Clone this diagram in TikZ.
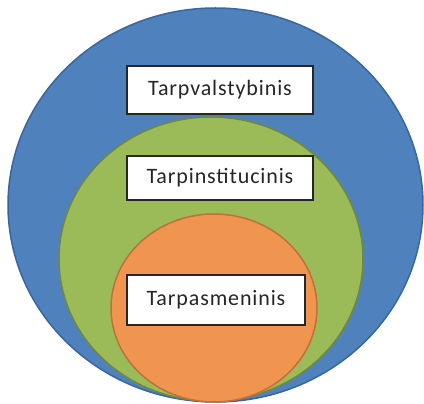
\documentclass[tikz,border=0pt]{standalone}
\usepackage{fontspec}
\setmainfont{Carlito}
\definecolor{cblue}{HTML}{4F81BD}
\definecolor{cblueE}{HTML}{3A66A0}
\definecolor{cgreen}{HTML}{9BBB59}
\definecolor{cgreenE}{HTML}{71893F}
\definecolor{corange}{HTML}{F0954F}
\definecolor{corangeE}{HTML}{C0703A}
\begin{document}
\begin{tikzpicture}[x=1pt,y=1pt,
  labelbox/.style={draw=black!85,fill=white,line width=1.2pt,inner sep=0pt,
    font=\fontsize{22}{24}\selectfont\addfontfeatures{LetterSpace=4},text=black!85}]
\useasboundingbox (0,0) rectangle (424,404);
\begin{scope}
\clip (0,0) rectangle (424,404);
\draw[fill=cblue,draw=cblueE,line width=1.5pt] (215.5,199) ellipse [x radius=207.5,y radius=197];
\draw[fill=cgreen,draw=cgreenE,line width=1.5pt] (211,145) ellipse [x radius=152,y radius=142];
\draw[fill=corange,draw=corangeE,line width=1.5pt] (214,96) ellipse [x radius=103,y radius=94];
\end{scope}
\node[labelbox,minimum width=186,minimum height=48] (n1) at (220,314) {Tarpvalstybinis};
\node[labelbox,minimum width=186,minimum height=44] (n2) at (220,226) {Tarpinstitucinis};
\node[labelbox,minimum width=178,minimum height=50] (n3) at (216,104) {Tarpasmeninis};
\end{tikzpicture}
\end{document}
